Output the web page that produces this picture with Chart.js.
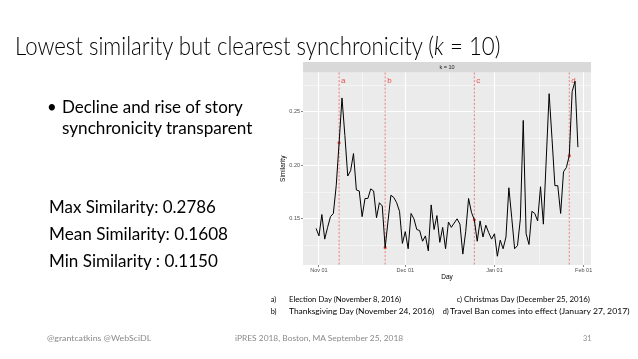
<!DOCTYPE html>
<html><head><meta charset="utf-8">
<script src="https://cdn.jsdelivr.net/npm/chart.js@4"></script>
<style>
html,body{margin:0;padding:0;background:#fff;width:638px;height:359px;overflow:hidden;}
#wrap{position:absolute;left:0;top:0;width:638px;height:359px;}
.t{position:absolute;white-space:nowrap;font-family:Lato,'Open Sans',sans-serif;line-height:1;transform-origin:0 0;color:#000;}
.f{color:#8a8a8a;}
</style></head><body>
<div id="wrap"><canvas id="c" width="638" height="359"></canvas></div>
<div class="t" id="title" style="font-weight:300">Lowest similarity but clearest synchronicity (<i>k</i> = 10)</div>
<div class="t" id="bul">•</div>
<div class="t" id="b1">Decline and rise of story</div>
<div class="t" id="b2">synchronicity transparent</div>
<div class="t" id="s1">Max Similarity: 0.2786</div>
<div class="t" id="s2">Mean Similarity: 0.1608</div>
<div class="t" id="s3">Min Similarity : 0.1150</div>
<div class="t" id="na">a)</div>
<div class="t" id="ta">Election Day (November 8, 2016)</div>
<div class="t" id="nc">c)</div>
<div class="t" id="tc">Christmas Day (December 25, 2016)</div>
<div class="t" id="nb">b)</div>
<div class="t" id="tb">Thanksgiving Day (November 24, 2016)</div>
<div class="t" id="nd">d)</div>
<div class="t" id="td">Travel Ban comes into effect (January 27, 2017)</div>
<div class="t f" id="f1">@grantcatkins @WebSciDL</div>
<div class="t f" id="f2">iPRES 2018, Boston, MA September 25, 2018</div>
<div class="t f" id="f3">31</div>
<script>
// ---- data ----
// day index 0 = Oct 31, 2016 ... 91 = Jan 30, 2017
const values = [
 0.141,0.134,0.154,0.131,0.142,0.152,0.155,0.181,0.221,0.263,
 0.228,0.190,0.195,0.211,0.177,0.176,0.152,0.169,0.169,0.178,
 0.176,0.151,0.165,0.162,0.123,0.148,0.172,0.170,0.165,0.157,
 0.127,0.138,0.122,0.155,0.150,0.140,0.139,0.129,0.134,0.120,
 0.163,0.140,0.153,0.128,0.142,0.122,0.147,0.142,0.146,0.150,
 0.145,0.117,0.138,0.169,0.156,0.149,0.129,0.148,0.133,0.144,
 0.137,0.131,0.136,0.115,0.130,0.122,0.133,0.179,0.151,0.122,
 0.125,0.150,0.242,0.136,0.126,0.157,0.155,0.148,0.180,0.145,
 0.206,0.267,0.225,0.181,0.181,0.155,0.194,0.198,0.209,0.269,
 0.2786,0.217
];
const xTickDays = [1, 31, 62, 93];
const xTickLabels = ['Nov 01','Dec 01','Jan 01','Feb 01'];
const xMinorDays = [16, 46.5, 77.5];
const yTickValues = [0.15, 0.20, 0.25];
const yTickLabels = ['0.15','0.20','0.25'];
const yMinorValues = [0.125, 0.175, 0.225, 0.275];
const eventDays = [8, 24, 55, 88];
const eventLetters = ['a','b','c','d'];
const facetLabel = 'k = 10';
const xTitle = 'Day';
const yTitle = 'Similarity';

// ---- slide text placement ----
function place(id, x, baseline, fs, w){
  const el = document.getElementById(id);
  el.style.fontSize = fs + 'px';
  el.style.left = x + 'px';
  el.style.top = '0px';
  const p = document.createElement('span');
  p.style.cssText = 'display:inline-block;width:0;height:0;vertical-align:baseline;';
  el.appendChild(p);
  const b = p.offsetTop;
  el.style.top = (baseline - b) + 'px';
  if (w) { const k = w / el.offsetWidth; el.style.transform = 'scaleX(' + k + ')'; }
}
place('title', 15, 55, 26.3, 485);
place('bul', 47, 113, 16.7);
place('b1', 61.7, 113, 16.7, 181);
place('b2', 61.7, 133.5, 16.7, 190);
place('s1', 49.3, 212.7, 16.7, 167.4);
place('s2', 49.3, 240, 16.7, 178.7);
place('s3', 49.3, 266.7, 16.7, 168.7);
place('na', 270.7, 302.3, 7.3);
place('ta', 289.3, 302.3, 7.3, 112);
place('nc', 456.7, 302.3, 7.3);
place('tc', 464, 302.3, 7.3, 126);
place('nb', 270.7, 313.5, 7.3);
place('tb', 289.3, 313.5, 7.3, 145);
place('nd', 442.7, 313.5, 7.3);
place('td', 450, 313.5, 7.3, 179);
place('f1', 47, 341, 7.2, 104);
place('f2', 235, 341, 7.2, 168);
place('f3', 583, 341, 7.2);

// ---- chart ----
const RED = '#e8504c';
const near = (a, arr) => arr.findIndex(v => Math.abs(v - a) < 1e-6);

const ggPlugin = {
  id: 'gg',
  beforeDraw(chart){
    const {ctx, chartArea: a} = chart;
    ctx.save();
    ctx.fillStyle = '#ebebeb';
    ctx.fillRect(a.left, a.top, a.right - a.left, a.bottom - a.top);
    ctx.fillStyle = '#d9d9d9';
    ctx.fillRect(a.left, a.top - 10.5, a.right - a.left, 10.5);
    ctx.fillStyle = '#1a1a1a';
    ctx.font = '5.5px "Liberation Sans", Arial, sans-serif';
    ctx.textAlign = 'center'; ctx.textBaseline = 'middle';
    ctx.fillText(facetLabel, (a.left + a.right) / 2, a.top - 5.2);
    ctx.restore();
  },
  beforeDatasetsDraw(chart){
    const {ctx, chartArea: a, scales: {x}} = chart;
    ctx.save();
    ctx.strokeStyle = RED; ctx.lineWidth = 0.7; ctx.setLineDash([2, 1.8]);
    ctx.fillStyle = RED;
    ctx.font = '8px "Liberation Sans", Arial, sans-serif';
    ctx.textAlign = 'left'; ctx.textBaseline = 'alphabetic';
    eventDays.forEach((d, i) => {
      const px = x.getPixelForValue(d);
      ctx.beginPath(); ctx.moveTo(px, a.top); ctx.lineTo(px, a.bottom); ctx.stroke();
      ctx.fillText(eventLetters[i], px + 2, a.top + 10.5);
    });
    ctx.restore();
  },
  afterDraw(chart){
    const {ctx, chartArea: a} = chart;
    ctx.save();
    ctx.fillStyle = '#000';
    ctx.font = '6.5px "Liberation Sans", Arial, sans-serif';
    ctx.textAlign = 'center'; ctx.textBaseline = 'middle';
    ctx.fillText(xTitle, (a.left + a.right) / 2, a.bottom + 12);
    ctx.translate(a.left - 20, (a.top + a.bottom) / 2);
    ctx.rotate(-Math.PI / 2);
    ctx.fillText(yTitle, 0, 0);
    ctx.restore();
  }
};

new Chart(document.getElementById('c'), {
  type: 'line',
  data: {
    datasets: [
      {
        data: values.map((v, i) => ({x: i, y: v})),
        borderColor: '#000', borderWidth: 1, pointRadius: 0, tension: 0, fill: false
      },
      {
        data: eventDays.map(d => ({x: d, y: values[d]})),
        showLine: false, pointRadius: 1.6, pointBackgroundColor: RED, pointBorderWidth: 0
      }
    ]
  },
  options: {
    responsive: false, animation: false, devicePixelRatio: 1,
    layout: {padding: {left: 273, right: 47, top: 72.5, bottom: 74}},
    plugins: {legend: {display: false}, tooltip: {enabled: false}},
    scales: {
      x: {
        type: 'linear', min: -4.55, max: 95.55,
        afterBuildTicks: s => { s.ticks = [...xTickDays, ...xMinorDays].sort((a,b)=>a-b).map(v => ({value: v})); },
        afterFit: s => { s.height = 20; },
        border: {display: false},
        grid: {
          color: '#ffffff',
          lineWidth: c => near(c.tick.value, xTickDays) >= 0 ? 1 : 0.5,
          drawTicks: true, tickLength: 2,
          tickColor: c => near(c.tick.value, xTickDays) >= 0 ? '#333333' : 'rgba(0,0,0,0)',
          tickWidth: 0.6
        },
        ticks: {
          autoSkip: false, maxRotation: 0, padding: 0.5, color: '#4d4d4d',
          font: {size: 5.5, family: '"Liberation Sans", Arial, sans-serif'},
          callback: v => { const k = near(v, xTickDays); return k >= 0 ? xTickLabels[k] : ''; }
        }
      },
      y: {
        type: 'linear', min: 0.1068, max: 0.2868,
        afterBuildTicks: s => { s.ticks = [...yTickValues, ...yMinorValues].sort((a,b)=>a-b).map(v => ({value: v})); },
        afterFit: s => { s.width = 30; },
        border: {display: false},
        grid: {
          color: '#ffffff',
          lineWidth: c => near(c.tick.value, yTickValues) >= 0 ? 1 : 0.5,
          drawTicks: true, tickLength: 2,
          tickColor: c => near(c.tick.value, yTickValues) >= 0 ? '#333333' : 'rgba(0,0,0,0)',
          tickWidth: 0.6
        },
        ticks: {
          padding: 1, color: '#4d4d4d',
          font: {size: 5.5, family: '"Liberation Sans", Arial, sans-serif'},
          callback: v => { const k = near(v, yTickValues); return k >= 0 ? yTickLabels[k] : ''; }
        }
      }
    }
  },
  plugins: [ggPlugin]
});
</script>
</body></html>
